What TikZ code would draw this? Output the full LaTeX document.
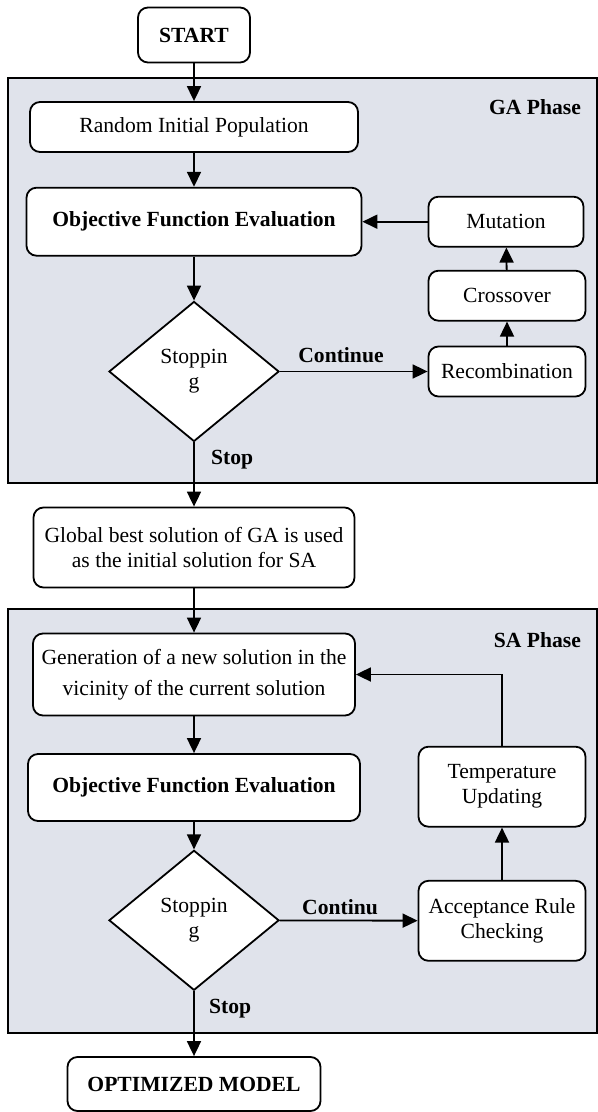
\documentclass[tikz,border=0pt]{standalone}
\usepackage{fontspec}
\setmainfont{Liberation Serif}
\usetikzlibrary{arrows.meta,shapes.geometric}
\definecolor{PhaseClr}{rgb}{0.878,0.890,0.922}
\definecolor{LineClr}{rgb}{0,0,0}

\begin{document}
\begin{tikzpicture}[x=0.5pt,y=-0.5pt,font=\fontsize{10.8}{12.5}\selectfont,
  box/.style={draw=LineClr,rounded corners=5pt,line width=0.9pt,fill=white,align=center,inner sep=2pt},
  decision/.style={draw=LineClr,diamond,aspect=1.2,line width=0.9pt,fill=white,align=center,inner sep=1pt,minimum width=85pt,minimum height=70pt},
  flow/.style={draw=LineClr,line width=0.9pt,-{Triangle[length=7.5pt,width=7pt]}},
  phase/.style={draw=LineClr,line width=1pt,fill=PhaseClr}]
\useasboundingbox (0,0) rectangle (598,1112);

\draw[phase] (8,78) rectangle (597,483);
\draw[phase] (8,609) rectangle (597,1033);

\node[box,minimum width=56pt,minimum height=27.5pt] (start) at (194,35) {\textbf{START}};
\node[anchor=east] (galabel) at (588,107) {\textbf{GA Phase}};
\node[box,minimum width=164pt,minimum height=25pt] (rip) at (194,127) {Random Initial Population};
\node[box,minimum width=167.5pt,minimum height=34pt] (ofea) at (194,221.7) {\textbf{Objective Function Evaluation}};
\node[box,minimum width=77.5pt,minimum height=25pt] (mut) at (506,221.7) {Mutation};
\node[box,minimum width=78.5pt,minimum height=25pt] (cross) at (507,295.7) {Crossover};
\node[box,minimum width=78.5pt,minimum height=25pt] (recomb) at (507,371.5) {Recombination};
\node[decision] (stopa) at (194,371.5) {Stoppin\\g};
\node (conta) at (341,355) {\textbf{Continue}};
\node[anchor=west] (haltA) at (204,460) {\textbf{Stop}};

\node[box,minimum width=160.5pt,minimum height=40pt] (gbest) at (194,547.5) {Global best solution of GA is used\\as the initial solution for SA};

\node[anchor=east] (salabel) at (588,640) {\textbf{SA Phase}};
\node[box,minimum width=161pt,minimum height=41pt] (gen) at (194,674.5) {Generation of a new solution in the\\[3pt]vicinity of the current solution};
\node[box,minimum width=166pt,minimum height=33.5pt] (ofeb) at (194,787.5) {\textbf{Objective Function Evaluation}};
\node[box,minimum width=83.5pt,minimum height=40pt] (temp) at (502,786.7) {Temperature\\Updating};
\node[decision] (stopb) at (194,920.3) {Stoppin\\g};
\node[box,minimum width=83.5pt,minimum height=40pt] (accept) at (502,920.8) {Acceptance Rule\\Checking};
\node (contb) at (340,907) {\textbf{Continu}};
\node[anchor=west] (haltB) at (202,1009) {\textbf{Stop}};

\node[box,minimum width=126.5pt,minimum height=27pt] (optim) at (194,1084) {\textbf{OPTIMIZED MODEL}};

% GA phase
\draw[flow] (start) -- (rip);
\draw[flow] (rip) -- (ofea);
\draw[flow] (ofea) -- (stopa);
\draw[flow] (stopa) -- (recomb);
\draw[flow] (recomb) -- (cross);
\draw[flow] (cross) -- (mut);
\draw[flow] (mut) -- (ofea);
\draw[flow] (stopa) -- (gbest);

% SA phase
\draw[flow] (gbest) -- (gen);
\draw[flow] (gen) -- (ofeb);
\draw[flow] (ofeb) -- (stopb);
\draw[flow] (stopb) -- (accept);
\draw[flow] (accept) -- (temp);
\draw[flow] (temp.north) |- (gen.east);
\draw[flow] (stopb) -- (optim);

\end{tikzpicture}
\end{document}
